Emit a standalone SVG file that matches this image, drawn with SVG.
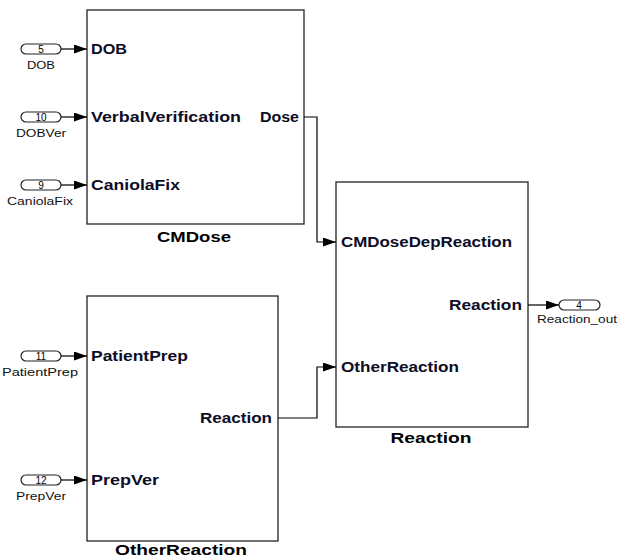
<svg xmlns="http://www.w3.org/2000/svg" width="618" height="558" viewBox="0 0 618 558">
<defs>
<marker id="arr" markerWidth="13" markerHeight="9" refX="13" refY="4.5" orient="auto" markerUnits="userSpaceOnUse">
<path d="M0,0 L13,4.5 L0,9 Z" fill="#000"/>
</marker>
<style>
.blk{fill:#fff;stroke:#222;stroke-width:1.3}
.port{fill:#fff;stroke:#222;stroke-width:1.2}
.pt{font-family:"Liberation Sans",Arial,sans-serif;font-weight:bold;font-size:14.5px;fill:#0d0d26}
.bn{font-family:"Liberation Sans",Arial,sans-serif;font-weight:bold;font-size:15.5px;fill:#000;text-anchor:middle}
.num{font-family:"Liberation Sans",Arial,sans-serif;font-size:10px;fill:#000;text-anchor:middle}
.lbl{font-family:"Liberation Sans",Arial,sans-serif;font-size:10.5px;fill:#111;text-anchor:middle}
.wire{fill:none;stroke:#000;stroke-width:1.2}
</style>
</defs>
<rect width="618" height="558" fill="#fff"/>

<g id="in_DOB">
<rect class="port" x="21" y="44" width="40" height="10" rx="5"/>
<text class="num" x="41" y="52.5">5</text>
<text class="lbl" x="41" y="69" textLength="28" lengthAdjust="spacingAndGlyphs">DOB</text>
</g>
<g id="in_DOBVer">
<rect class="port" x="21" y="112" width="40" height="10" rx="5"/>
<text class="num" x="41" y="120.5">10</text>
<text class="lbl" x="41" y="137" textLength="50" lengthAdjust="spacingAndGlyphs">DOBVer</text>
</g>
<g id="in_CaniolaFix">
<rect class="port" x="21" y="180" width="40" height="10" rx="5"/>
<text class="num" x="41" y="188.5">9</text>
<text class="lbl" x="40" y="205" textLength="66" lengthAdjust="spacingAndGlyphs">CaniolaFix</text>
</g>
<g id="in_PatientPrep">
<rect class="port" x="21" y="351" width="40" height="10" rx="5"/>
<text class="num" x="41" y="359.5">11</text>
<text class="lbl" x="40" y="376" textLength="76" lengthAdjust="spacingAndGlyphs">PatientPrep</text>
</g>
<g id="in_PrepVer">
<rect class="port" x="21" y="475" width="40" height="10" rx="5"/>
<text class="num" x="41" y="483.5">12</text>
<text class="lbl" x="41" y="500" textLength="50" lengthAdjust="spacingAndGlyphs">PrepVer</text>
</g>
<g id="out_Reaction_out">
<rect class="port" x="559" y="300" width="41" height="10" rx="5"/>
<text class="num" x="579" y="308.5">4</text>
<text class="lbl" x="577" y="323" textLength="80" lengthAdjust="spacingAndGlyphs">Reaction_out</text>
</g>

<g id="CMDose">
<rect class="blk" x="87" y="10" width="217" height="214"/>
<text class="pt" x="91" y="54" textLength="36" lengthAdjust="spacingAndGlyphs">DOB</text>
<text class="pt" x="91" y="122" textLength="150" lengthAdjust="spacingAndGlyphs">VerbalVerification</text>
<text class="pt" x="91" y="190" textLength="89" lengthAdjust="spacingAndGlyphs">CaniolaFix</text>
<text class="pt" x="260" y="122" textLength="39" lengthAdjust="spacingAndGlyphs">Dose</text>
<text class="bn" x="194" y="242" textLength="74" lengthAdjust="spacingAndGlyphs">CMDose</text>
</g>

<g id="OtherReaction">
<rect class="blk" x="87" y="296" width="191" height="245"/>
<text class="pt" x="91" y="361" textLength="97" lengthAdjust="spacingAndGlyphs">PatientPrep</text>
<text class="pt" x="91" y="485" textLength="68" lengthAdjust="spacingAndGlyphs">PrepVer</text>
<text class="pt" x="200" y="423" textLength="72" lengthAdjust="spacingAndGlyphs">Reaction</text>
<text class="bn" x="181" y="555" textLength="132" lengthAdjust="spacingAndGlyphs">OtherReaction</text>
</g>

<g id="Reaction">
<rect class="blk" x="336" y="182" width="192" height="245"/>
<text class="pt" x="341" y="247" textLength="171" lengthAdjust="spacingAndGlyphs">CMDoseDepReaction</text>
<text class="pt" x="341" y="372" textLength="118" lengthAdjust="spacingAndGlyphs">OtherReaction</text>
<text class="pt" x="449" y="310" textLength="73" lengthAdjust="spacingAndGlyphs">Reaction</text>
<text class="bn" x="431" y="443" textLength="81" lengthAdjust="spacingAndGlyphs">Reaction</text>
</g>

<g id="connectors">
<path class="wire" d="M61,49 H87" marker-end="url(#arr)"/>
<path class="wire" d="M61,117 H87" marker-end="url(#arr)"/>
<path class="wire" d="M61,185 H87" marker-end="url(#arr)"/>
<path class="wire" d="M61,356 H87" marker-end="url(#arr)"/>
<path class="wire" d="M61,480 H87" marker-end="url(#arr)"/>
<path class="wire" d="M304,117 H317 V242 H336" marker-end="url(#arr)"/>
<path class="wire" d="M278,418 H317 V367 H336" marker-end="url(#arr)"/>
<path class="wire" d="M528,305 H559" marker-end="url(#arr)"/>
</g>
</svg>
